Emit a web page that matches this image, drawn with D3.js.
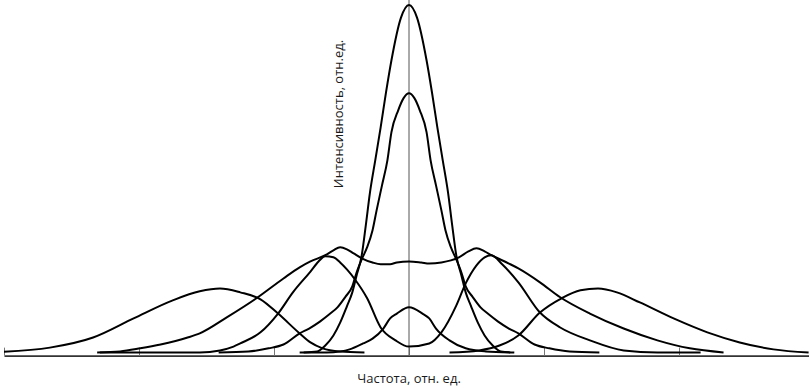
<!DOCTYPE html>
<html>
<head>
<meta charset="utf-8">
<script src="https://cdn.jsdelivr.net/npm/d3@7"></script>
<style>
  html, body { margin: 0; padding: 0; background: #fff; }
  svg { display: block; }
  .curve { fill: none; stroke: #000; stroke-width: 2; stroke-linejoin: round; }
  .lbl { font-family: "Open Sans", "Noto Sans", sans-serif; font-size: 13px; fill: #1a1a1a; }
</style>
</head>
<body>
<svg id="chart" width="809" height="388"></svg>
<script>
// frequency in relative units (one tick = 1), intensity in % of the tallest line
const freqTicks = [-3, -2, -1, 0, 1, 2];
const xTitle = "Частота, отн. ед.";
const yTitle = "Интенсивность, отн.ед.";

// narrow central line
const freqA = [-0.78,-0.68,-0.62,-0.56,-0.51,-0.46,-0.42,-0.39,-0.35,-0.32,-0.29,-0.25,-0.21,-0.17,-0.13,-0.06,0,0.06,0.13,0.17,0.21,0.25,0.29,0.32,0.35,0.39,0.42,0.46,0.51,0.56,0.62,0.68,0.78];
const intA = [0,0.3,2.0,4.9,8.6,13.3,17.3,21.9,28.0,36.6,45.8,55.3,64.8,74.9,84.1,96.3,100,96.3,84.1,74.9,64.8,55.3,45.8,36.6,28.0,21.9,17.3,13.3,8.6,4.9,2.0,0.3,0];

// lower central line with wide wings
const freqB = [-1.41,-1.19,-1.04,-0.93,-0.81,-0.74,-0.66,-0.59,-0.53,-0.47,-0.42,-0.39,-0.35,-0.31,-0.27,-0.24,-0.20,-0.16,-0.13,-0.08,-0.04,0,0.04,0.08,0.13,0.16,0.20,0.24,0.27,0.31,0.35,0.39,0.42,0.47,0.53,0.59,0.66,0.74,0.81,0.93,1.04,1.19,1.41];
const intB = [0,0.3,1.2,2.3,5.5,6.9,8.9,11.0,13.0,16.1,19.0,22.8,26.8,30.3,35.2,40.9,48.1,55.3,63.4,69.7,73.2,74.6,73.2,69.7,63.4,55.3,48.1,40.9,35.2,30.3,26.8,22.8,19.0,16.1,13.0,11.0,8.9,6.9,5.5,2.3,1.2,0.3,0];

// flat-topped doublet
const freqC = [-2.31,-2.14,-1.99,-1.84,-1.64,-1.55,-1.35,-1.13,-0.93,-0.81,-0.73,-0.62,-0.56,-0.51,-0.46,-0.41,-0.35,-0.27,-0.21,-0.14,-0.09,0,0.09,0.15,0.24,0.31,0.37,0.44,0.50,0.56,0.61,0.74,0.81,0.97,1.12,1.34,1.59,1.84,2.08,2.33];
const intC = [0,0.3,1.2,2.3,4.3,5.5,10.1,15.6,21.3,24.5,26.2,28.0,29.4,30.3,29.7,28.5,27.1,25.9,25.4,25.4,25.9,26.2,25.9,25.6,25.9,26.5,27.4,29.1,30.0,29.1,28.0,25.6,24.2,20.2,15.9,11.2,6.9,3.5,1.2,0];

// far wide components
const freqD1 = [-3.0,-2.66,-2.34,-2.04,-1.75,-1.55,-1.40,-1.25,-1.10,-0.97,-0.81,-0.73,-0.64,-0.51,-0.33];
const intD1 = [0.2,1.4,4.3,9.8,15.0,17.6,18.4,17.3,15.3,11.2,5.5,2.9,1.2,0.3,0];
const freqD2 = [0.30,0.52,0.67,0.81,0.97,1.13,1.27,1.40,1.54,1.71,1.96,2.21,2.45,2.70,2.96];
const intD2 = [0,0.6,2.0,4.9,11.5,15.6,17.9,18.4,17.3,14.4,9.8,5.8,2.9,0.9,0];

// resolved doublet
const freqE = [-2.29,-1.70,-1.55,-1.40,-1.30,-1.25,-1.10,-0.97,-0.86,-0.73,-0.67,-0.62,-0.56,-0.51,-0.46,-0.40,-0.31,-0.21,-0.10,0,0.15,0.24,0.35,0.42,0.50,0.56,0.61,0.69,0.81,0.97,1.12,1.34,1.59,1.84,2.16];
const intE = [0,0,0,0.6,1.7,2.6,5.8,11.2,17.3,23.3,26.2,27.7,27.4,25.9,23.9,21.0,15.6,7.2,3.5,1.7,2.6,5.8,13.5,19.9,25.1,27.4,28.0,25.4,20.2,11.5,7.2,3.5,0.6,0,0];

// small central bump
const freqF = [-0.81,-0.61,-0.51,-0.44,-0.34,-0.27,-0.19,-0.14,-0.09,0,0.10,0.15,0.20,0.30,0.42,0.57,0.75];
const intF = [0,0,0.3,0.9,2.6,4.0,6.9,9.8,11.2,13.0,11.2,9.8,6.9,3.5,1.2,0.3,0];

const curves = [
  [freqD1, intD1], [freqD2, intD2], [freqC, intC], [freqE, intE],
  [freqF, intF], [freqB, intB], [freqA, intA]
];

const svg = d3.select("#chart");

const x = d3.scaleLinear().domain([-3, 3]).range([4, 814]);
const y = d3.scaleLinear().domain([0, 100]).range([352.5, 5]);

// frequency axis, ticks pointing up
svg.append("g")
   .attr("transform", "translate(0," + y(-0.9) + ")")
   .call(d3.axisBottom(x).tickValues(freqTicks).tickSize(-8).tickSizeOuter(0).tickFormat(""))
   .call(g => g.select(".domain").attr("stroke", "#333").attr("stroke-width", 1.6))
   .call(g => g.selectAll(".tick line").attr("stroke", "#777").attr("stroke-width", 1));

// intensity axis
svg.append("line")
   .attr("x1", x(0)).attr("x2", x(0))
   .attr("y1", y(101.5)).attr("y2", y(-0.9))
   .attr("stroke", "#555").attr("stroke-width", 1);

const line = d3.line()
   .x(d => x(d[0]))
   .y(d => y(d[1]))
   .curve(d3.curveMonotoneX);

svg.selectAll(".curve")
   .data(curves)
   .enter()
   .append("path")
   .attr("class", "curve")
   .attr("d", c => line(c[0].map((f, i) => [f, c[1][i]])));

svg.append("text")
   .attr("class", "lbl")
   .attr("x", x(0))
   .attr("y", 383)
   .attr("text-anchor", "middle")
   .text(xTitle);

svg.append("text")
   .attr("class", "lbl")
   .attr("transform", "translate(" + 343 + "," + 114 + ") rotate(-90)")
   .attr("text-anchor", "middle")
   .text(yTitle);
</script>
</body>
</html>
